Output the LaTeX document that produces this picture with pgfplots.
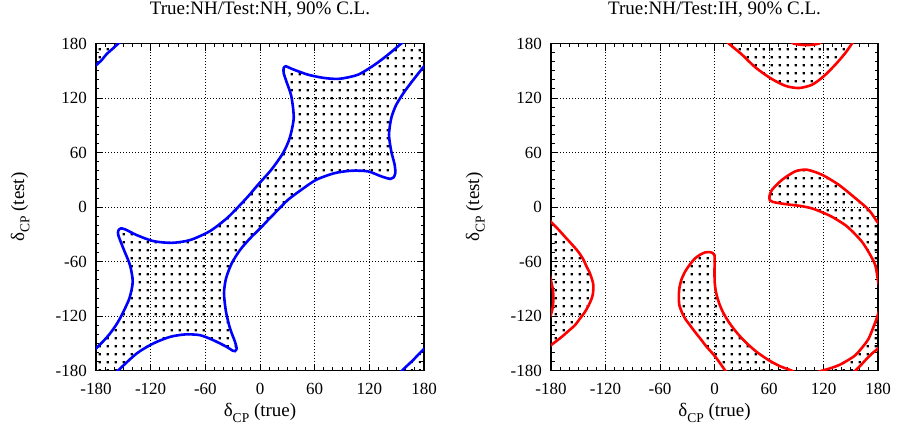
\documentclass[border=0pt]{standalone}
\usepackage{fontspec}
\setmainfont{Liberation Serif}
\usepackage{pgfplots}
\pgfplotsset{compat=1.18}
\usetikzlibrary{patterns.meta}
\definecolor{gpblue}{RGB}{0,0,255}
\definecolor{gpred}{RGB}{255,0,0}
\tikzdeclarepattern{
  name=gpdots,
  type=uncolored,
  bounding box={(0pt,0pt) and (8pt,8pt)},
  tile size={(8pt,8pt)},
  tile transformation={},
  code={\pgfpathrectangle{\pgfqpoint{3pt}{3pt}}{\pgfqpoint{2.4pt}{2.4pt}}\pgfusepath{fill}}
}
\newcommand{\dcp}{δ\raisebox{-0.28em}{\fontsize{13.5}{14}\selectfont CP}}
\pgfplotsset{
  myax/.style={
    scale only axis, anchor=south west,
    xmin=-180, xmax=180, ymin=-180, ymax=180, enlargelimits=false,
    xtick={-180,-120,...,180}, ytick={-180,-120,...,180},
    xticklabels={-180,-120,-60,0,60,120,180},
    yticklabels={-180,-120,-60,0,60,120,180},
    minor x tick num=5, minor y tick num=5,
    major tick length=7pt, minor tick length=3.5pt,
    tick style={black, line width=0.9pt},
    grid=major,
    major grid style={black, line width=0.6pt, dash pattern=on 0.7pt off 2.3pt},
    axis line style={line width=1.4pt},
    /pgf/number format/assume math mode=true,
    tick label style={font=\fontsize{17}{20}\selectfont},
    xticklabel style={anchor=base, yshift=-24pt, inner sep=0pt},
    yticklabel style={anchor=east, xshift=-9pt, inner sep=0pt},
    label style={font=\fontsize{19}{22}\selectfont},
    xlabel={\dcp\ (true)}, ylabel={\dcp\ (test)},
    xlabel style={at={(axis description cs:0.5,0)}, anchor=base, yshift=-46pt},
    ylabel style={at={(axis description cs:-0.2195,0.5)}, anchor=base},
    title style={at={(axis description cs:0.5,1)}, anchor=base, yshift=23.5pt, font=\fontsize{19}{22}\selectfont},
  },
  dotfill/.style={draw=none, pattern={gpdots}, pattern color=black, smooth, tension=0.45},
  bl/.style={gpblue, line width=2.6pt, smooth, tension=0.45},
  rd/.style={gpred, line width=2.6pt, smooth, tension=0.45},
}
\begin{document}
\begin{tikzpicture}[x=1pt,y=1pt]
\path[use as bounding box] (0,0) rectangle (897,429);
% ---------------- Left panel ----------------
\begin{axis}[myax, at={(96pt,58.3pt)}, width=328pt, height=327.2pt,
  title={True:NH/Test:NH, 90\% C.L.}]
% main band
\addplot[dotfill] coordinates {
(-185,-161) (-180,-155.6) (-172,-147.5) (-164.6,-139.1) (-157.5,-129) (-151.8,-118.9) (-143.4,-100.5) (-139.7,-82.2) (-142.7,-63.9) (-150,-45.5) (-155.5,-31) (-155.5,-26) (-153,-23.5) (-148,-24.5) (-135.3,-30.8) (-117.1,-37.4) (-96.9,-39.3) (-76.8,-36.3) (-54.9,-26.4) (-36.5,-12.4) (-23.8,0.3) (-12,13) (-2.2,24.6) (12.4,41.1) (25.3,59.5) (32.6,76) (37,98) (34.4,121.9) (28.9,138.4) (26,147.5) (26,153) (28.5,155) (34.4,152.3) (52.7,145.7) (71,142) (87.5,141.2) (107.6,145.7) (125.9,156.7) (140.5,167.7) (155.1,180) (160,184)
(185,185)
(184,160) (180,154.9) (169.8,142) (158.8,127.4) (149.6,112.7) (144.1,98) (141.6,79.6) (144.1,61.3) (147.8,46.6) (148.5,37.4) (146.5,32.5) (143,31) (133.1,33.8) (118.5,39.3) (100.2,40) (82,37.4) (61.8,30.1) (45.3,19) (30.7,8) (19.8,-3) (10,-13) (0.8,-22.8) (-11,-34.5) (-22,-47.3) (-31.1,-62) (-37.3,-78.5) (-39.5,-95) (-37.3,-115.3) (-32.9,-133.5) (-27.4,-148.3) (-25.6,-155.6) (-27.5,-158.5) (-30,-158) (-36.5,-153.8) (-51.3,-146.4) (-65.9,-140.9) (-82.3,-140.1) (-98.8,-142.8) (-117.1,-150) (-135.3,-161) (-156,-180) (-160,-184)
(-185,-185)
} -- cycle;
\addplot[dotfill] coordinates {
(-185,151) (-180,156) (-174,161.5) (-168.3,168.4) (-162,174) (-155.5,180) (-151,184) (-185,185)
} -- cycle;
\addplot[dotfill] coordinates {
(151,-184) (155.9,-180) (162,-174) (168,-168.4) (174,-162) (179.7,-156.3) (184,-152) (185,-185)
} -- cycle;
% curves
\addplot[bl] coordinates {
(-185,-161) (-180,-155.6) (-172,-147.5) (-164.6,-139.1) (-157.5,-129) (-151.8,-118.9) (-143.4,-100.5) (-139.7,-82.2) (-142.7,-63.9) (-150,-45.5) (-155.5,-31) (-155.5,-26) (-153,-23.5) (-148,-24.5) (-135.3,-30.8) (-117.1,-37.4) (-96.9,-39.3) (-76.8,-36.3) (-54.9,-26.4) (-36.5,-12.4) (-23.8,0.3) (-12,13) (-2.2,24.6) (12.4,41.1) (25.3,59.5) (32.6,76) (37,98) (34.4,121.9) (28.9,138.4) (26,147.5) (26,153) (28.5,155) (34.4,152.3) (52.7,145.7) (71,142) (87.5,141.2) (107.6,145.7) (125.9,156.7) (140.5,167.7) (155.1,180) (160,184)
};
\addplot[bl] coordinates {
(184,160) (180,154.9) (169.8,142) (158.8,127.4) (149.6,112.7) (144.1,98) (141.6,79.6) (144.1,61.3) (147.8,46.6) (148.5,37.4) (146.5,32.5) (143,31) (133.1,33.8) (118.5,39.3) (100.2,40) (82,37.4) (61.8,30.1) (45.3,19) (30.7,8) (19.8,-3) (10,-13) (0.8,-22.8) (-11,-34.5) (-22,-47.3) (-31.1,-62) (-37.3,-78.5) (-39.5,-95) (-37.3,-115.3) (-32.9,-133.5) (-27.4,-148.3) (-25.6,-155.6) (-27.5,-158.5) (-30,-158) (-36.5,-153.8) (-51.3,-146.4) (-65.9,-140.9) (-82.3,-140.1) (-98.8,-142.8) (-117.1,-150) (-135.3,-161) (-156,-180) (-160,-184)
};
\addplot[bl] coordinates {
(-185,151) (-180,156) (-174,161.5) (-168.3,168.4) (-162,174) (-155.5,180) (-151,184)
};
\addplot[bl] coordinates {
(151,-184) (155.9,-180) (162,-174) (168,-168.4) (174,-162) (179.7,-156.3) (184,-152)
};
\end{axis}
% ---------------- Right panel ----------------
\begin{axis}[myax, at={(551pt,58.3pt)}, width=327pt, height=327.2pt,
  title={True:NH/Test:IH, 90\% C.L.}]
% top U region
\addplot[dotfill] coordinates {
(13,183) (15.6,180) (30.3,167.7) (44.9,153.8) (61.4,142) (77.9,133.5) (92.7,131) (107.3,134.6) (120.2,143.9) (133,156.7) (144,169.5) (151.4,180) (153.5,183)
(117,181.5) (115,180) (108,178.6) (101,178.3) (95,178.6) (87,180) (85,181.5)
} -- cycle;
% upper blob + right strip
\addplot[dotfill] coordinates {
(184,-20) (180,-17.3) (169.8,-3) (155,9.9) (136.7,24.6) (118.3,35.6) (101.8,41.1) (88.9,39.3) (74.3,30) (63.3,19) (60.5,12) (61,7.5) (64,5.8) (70.7,4.4) (83.5,2.6) (95,1.2) (107.3,-1.4) (118,-5.5) (129.4,-10.7) (144,-19.8) (153,-28) (162.4,-38.2) (170,-50) (177,-63.9) (180,-81) (182,-90) (182.6,-100) (182,-110) (180,-118) (176.5,-128) (169.8,-144.5) (163,-154) (155,-163) (146,-169) (136.7,-174) (127,-177.5) (118.3,-180) (112,-182)
(151,-184) (155,-180) (161,-174) (167,-167.5) (173.5,-161) (180,-155.6) (184,-151)
(190,-151) (190,-20)
} -- cycle;
% lower blob
\addplot[dotfill] coordinates {
(88,-182) (85.3,-180) (72,-175) (59.7,-168.4) (46,-159) (33.9,-148.3) (24,-137.5) (15.6,-126.3) (9,-115) (4.6,-104.3) (1.5,-93) (0.2,-82.2) (0,-70) (0.2,-60.2) (0,-53) (-2,-50.5) (-5,-49.5) (-10.5,-49.9) (-16,-52.5) (-21.5,-56.5) (-27,-63) (-32.5,-71.2) (-36.5,-80) (-38.7,-89.5) (-39.3,-98.5) (-38.7,-107.9) (-36,-115.5) (-32.5,-122.5) (-27,-130) (-21.5,-137.3) (-15,-145.5) (-8.6,-153.8) (-3,-160) (2.4,-166.6) (7,-173) (11.9,-180) (14,-183)
} -- cycle;
% left blob
\addplot[dotfill] coordinates {
(-184,-11) (-180,-16.2) (-172,-24.5) (-164.6,-32.7) (-157,-41) (-149.9,-49.2) (-144.5,-57.5) (-140.7,-65.7) (-137.5,-72) (-135.2,-78.5) (-133.6,-84) (-133.4,-89.5) (-133.8,-95) (-135.2,-100.5) (-138.5,-108) (-142.6,-115.3) (-148,-122.5) (-153.6,-129.9) (-161,-136.5) (-168.2,-142.8) (-174,-147.3) (-180,-151.9) (-184,-155)
(-183.5,-128) (-180,-118) (-178,-110) (-177.4,-100) (-178,-90) (-180,-81) (-183,-66)
} -- cycle;
% curves
\addplot[rd] coordinates {
(13,183) (15.6,180) (30.3,167.7) (44.9,153.8) (61.4,142) (77.9,133.5) (92.7,131) (107.3,134.6) (120.2,143.9) (133,156.7) (144,169.5) (151.4,180) (153.5,183)
};
\addplot[rd] coordinates {
(85,181.5) (87,180) (95,178.6) (101,178.3) (108,178.6) (115,180) (117,181.5)
};
\addplot[rd] coordinates {
(184,-20) (180,-17.3) (169.8,-3) (155,9.9) (136.7,24.6) (118.3,35.6) (101.8,41.1) (88.9,39.3) (74.3,30) (63.3,19) (60.5,12) (61,7.5) (64,5.8) (70.7,4.4) (83.5,2.6) (95,1.2) (107.3,-1.4) (118,-5.5) (129.4,-10.7) (144,-19.8) (153,-28) (162.4,-38.2) (170,-50) (177,-63.9) (180,-81) (182,-90) (182.6,-100) (182,-110) (180,-118) (176.5,-128) (169.8,-144.5) (163,-154) (155,-163) (146,-169) (136.7,-174) (127,-177.5) (118.3,-180) (112,-182)
};
\addplot[rd] coordinates {
(88,-182) (85.3,-180) (72,-175) (59.7,-168.4) (46,-159) (33.9,-148.3) (24,-137.5) (15.6,-126.3) (9,-115) (4.6,-104.3) (1.5,-93) (0.2,-82.2) (0,-70) (0.2,-60.2) (0,-53) (-2,-50.5) (-5,-49.5) (-10.5,-49.9) (-16,-52.5) (-21.5,-56.5) (-27,-63) (-32.5,-71.2) (-36.5,-80) (-38.7,-89.5) (-39.3,-98.5) (-38.7,-107.9) (-36,-115.5) (-32.5,-122.5) (-27,-130) (-21.5,-137.3) (-15,-145.5) (-8.6,-153.8) (-3,-160) (2.4,-166.6) (7,-173) (11.9,-180) (14,-183)
};
\addplot[rd] coordinates {
(151,-184) (155,-180) (161,-174) (167,-167.5) (173.5,-161) (180,-155.6) (184,-151)
};
\addplot[rd] coordinates {
(-184,-11) (-180,-16.2) (-172,-24.5) (-164.6,-32.7) (-157,-41) (-149.9,-49.2) (-144.5,-57.5) (-140.7,-65.7) (-137.5,-72) (-135.2,-78.5) (-133.6,-84) (-133.4,-89.5) (-133.8,-95) (-135.2,-100.5) (-138.5,-108) (-142.6,-115.3) (-148,-122.5) (-153.6,-129.9) (-161,-136.5) (-168.2,-142.8) (-174,-147.3) (-180,-151.9) (-184,-155)
};
\addplot[rd] coordinates {
(-183,-66) (-180,-81) (-178,-90) (-177.4,-100) (-178,-110) (-180,-118) (-183.5,-128)
};
\end{axis}
\end{tikzpicture}
\end{document}
